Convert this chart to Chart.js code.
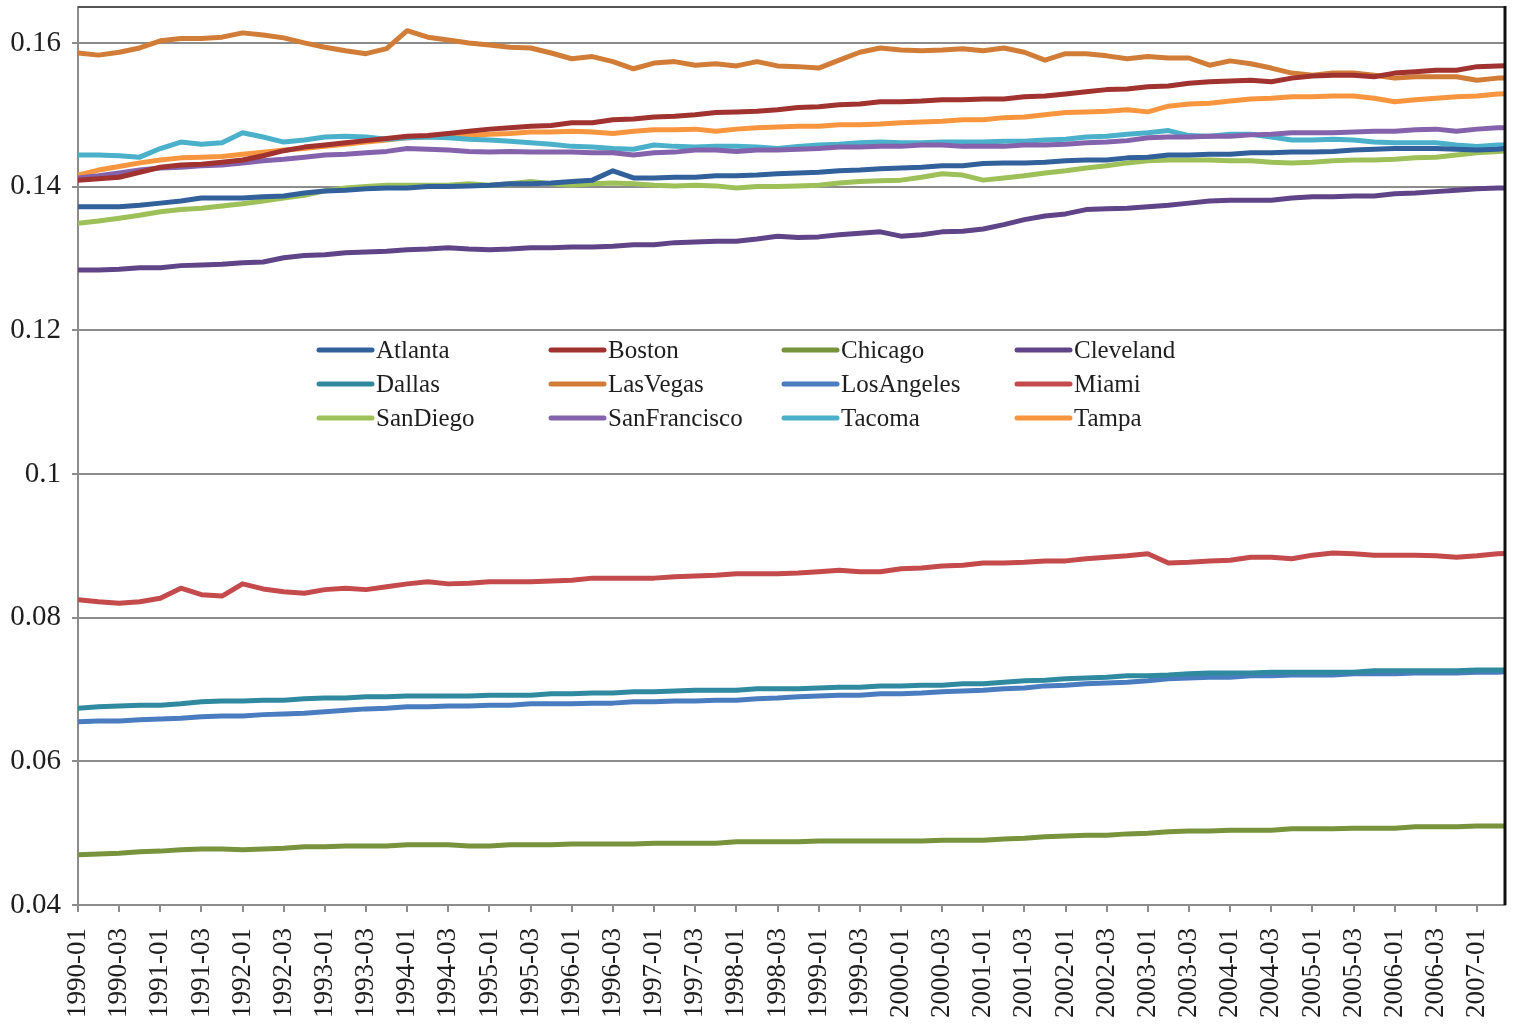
<!DOCTYPE html>
<html>
<head>
<meta charset="utf-8">
<title>Regional series by city, 1990–2007</title>
<script src="https://cdn.jsdelivr.net/npm/chart.js@4.4.1/dist/chart.umd.min.js"></script>
<style>
  html, body { margin: 0; padding: 0; background: #ffffff; }
  #wrap { position: relative; width: 1519px; height: 1030px; }
</style>
</head>
<body>
<div id="wrap"><canvas id="c"></canvas></div>
<script>
// Quarterly periods (YYYY-QQ); every second one is labelled on the axis.
const periods = [
  '1990-01','1990-02','1990-03','1990-04','1991-01','1991-02','1991-03','1991-04',
  '1992-01','1992-02','1992-03','1992-04','1993-01','1993-02','1993-03','1993-04',
  '1994-01','1994-02','1994-03','1994-04','1995-01','1995-02','1995-03','1995-04',
  '1996-01','1996-02','1996-03','1996-04','1997-01','1997-02','1997-03','1997-04',
  '1998-01','1998-02','1998-03','1998-04','1999-01','1999-02','1999-03','1999-04',
  '2000-01','2000-02','2000-03','2000-04','2001-01','2001-02','2001-03','2001-04',
  '2002-01','2002-02','2002-03','2002-04','2003-01','2003-02','2003-03','2003-04',
  '2004-01','2004-02','2004-03','2004-04','2005-01','2005-02','2005-03','2005-04',
  '2006-01','2006-02','2006-03','2006-04','2007-01','2007-02','2007-03'
];

const cities = ['Atlanta','Boston','Chicago','Cleveland','Dallas','LasVegas',
                'LosAngeles','Miami','SanDiego','SanFrancisco','Tacoma','Tampa'];

const yTicks = [0.04, 0.06, 0.08, 0.10, 0.12, 0.14, 0.16];

const atlanta = [
  0.1372,0.1372,0.1372,0.1374,0.1377,0.1380,0.1384,0.1384,0.1384,0.1386,
  0.1387,0.1391,0.1394,0.1395,0.1397,0.1398,0.1398,0.1400,0.1400,0.1401,
  0.1402,0.1404,0.1404,0.1405,0.1407,0.1409,0.1422,0.1412,0.1412,0.1413,
  0.1413,0.1415,0.1415,0.1416,0.1418,0.1419,0.1420,0.1422,0.1423,0.1425,
  0.1426,0.1427,0.1429,0.1429,0.1432,0.1433,0.1433,0.1434,0.1436,0.1437,
  0.1437,0.1440,0.1441,0.1444,0.1444,0.1445,0.1445,0.1447,0.1447,0.1448,
  0.1448,0.1449,0.1451,0.1452,0.1453,0.1453,0.1453,0.1452,0.1451,0.1452,
  0.1455
];
const boston = [
  0.1409,0.1411,0.1413,0.1420,0.1427,0.1430,0.1431,0.1434,0.1437,0.1443,
  0.1450,0.1455,0.1458,0.1461,0.1464,0.1467,0.1470,0.1471,0.1474,0.1477,
  0.1480,0.1482,0.1484,0.1485,0.1489,0.1489,0.1493,0.1494,0.1497,0.1498,
  0.1500,0.1503,0.1504,0.1505,0.1507,0.1510,0.1511,0.1514,0.1515,0.1518,
  0.1518,0.1519,0.1521,0.1521,0.1522,0.1522,0.1525,0.1526,0.1529,0.1532,
  0.1535,0.1536,0.1539,0.1540,0.1544,0.1546,0.1547,0.1548,0.1546,0.1551,
  0.1554,0.1555,0.1555,0.1553,0.1558,0.1560,0.1562,0.1562,0.1567,0.1568,
  0.1569
];
const chicago = [
  0.0470,0.0471,0.0472,0.0474,0.0475,0.0477,0.0478,0.0478,0.0477,0.0478,
  0.0479,0.0481,0.0481,0.0482,0.0482,0.0482,0.0484,0.0484,0.0484,0.0482,
  0.0482,0.0484,0.0484,0.0484,0.0485,0.0485,0.0485,0.0485,0.0486,0.0486,
  0.0486,0.0486,0.0488,0.0488,0.0488,0.0488,0.0489,0.0489,0.0489,0.0489,
  0.0489,0.0489,0.0490,0.0490,0.0490,0.0492,0.0493,0.0495,0.0496,0.0497,
  0.0497,0.0499,0.0500,0.0502,0.0503,0.0503,0.0504,0.0504,0.0504,0.0506,
  0.0506,0.0506,0.0507,0.0507,0.0507,0.0509,0.0509,0.0509,0.0510,0.0510,
  0.0510
];
const cleveland = [
  0.1284,0.1284,0.1285,0.1287,0.1287,0.1290,0.1291,0.1292,0.1294,0.1295,
  0.1301,0.1304,0.1305,0.1308,0.1309,0.1310,0.1312,0.1313,0.1315,0.1313,
  0.1312,0.1313,0.1315,0.1315,0.1316,0.1316,0.1317,0.1319,0.1319,0.1322,
  0.1323,0.1324,0.1324,0.1327,0.1331,0.1329,0.1330,0.1333,0.1335,0.1337,
  0.1331,0.1333,0.1337,0.1338,0.1341,0.1347,0.1354,0.1359,0.1362,0.1368,
  0.1369,0.1370,0.1372,0.1374,0.1377,0.1380,0.1381,0.1381,0.1381,0.1384,
  0.1386,0.1386,0.1387,0.1387,0.1390,0.1391,0.1393,0.1395,0.1397,0.1398,
  0.1398
];
const dallas = [
  0.0674,0.0676,0.0677,0.0678,0.0678,0.0680,0.0683,0.0684,0.0684,0.0685,
  0.0685,0.0687,0.0688,0.0688,0.0690,0.0690,0.0691,0.0691,0.0691,0.0691,
  0.0692,0.0692,0.0692,0.0694,0.0694,0.0695,0.0695,0.0697,0.0697,0.0698,
  0.0699,0.0699,0.0699,0.0701,0.0701,0.0701,0.0702,0.0703,0.0703,0.0705,
  0.0705,0.0706,0.0706,0.0708,0.0708,0.0710,0.0712,0.0713,0.0715,0.0716,
  0.0717,0.0719,0.0719,0.0720,0.0722,0.0723,0.0723,0.0723,0.0724,0.0724,
  0.0724,0.0724,0.0724,0.0726,0.0726,0.0726,0.0726,0.0726,0.0727,0.0727,
  0.0727
];
const lasVegas = [
  0.1586,0.1583,0.1587,0.1593,0.1603,0.1606,0.1606,0.1608,0.1614,0.1611,
  0.1607,0.1600,0.1594,0.1589,0.1585,0.1592,0.1617,0.1608,0.1604,0.1600,
  0.1597,0.1594,0.1593,0.1586,0.1578,0.1581,0.1574,0.1564,0.1572,0.1574,
  0.1569,0.1571,0.1568,0.1574,0.1568,0.1567,0.1565,0.1576,0.1587,0.1593,
  0.1590,0.1589,0.1590,0.1592,0.1589,0.1593,0.1587,0.1576,0.1585,0.1585,
  0.1582,0.1578,0.1581,0.1579,0.1579,0.1569,0.1575,0.1571,0.1565,0.1558,
  0.1555,0.1558,0.1558,0.1555,0.1551,0.1553,0.1553,0.1553,0.1548,0.1551,
  0.1551
];
const losAngeles = [
  0.0655,0.0656,0.0656,0.0658,0.0659,0.0660,0.0662,0.0663,0.0663,0.0665,
  0.0666,0.0667,0.0669,0.0671,0.0673,0.0674,0.0676,0.0676,0.0677,0.0677,
  0.0678,0.0678,0.0680,0.0680,0.0680,0.0681,0.0681,0.0683,0.0683,0.0684,
  0.0684,0.0685,0.0685,0.0687,0.0688,0.0690,0.0691,0.0692,0.0692,0.0694,
  0.0694,0.0695,0.0697,0.0698,0.0699,0.0701,0.0702,0.0705,0.0706,0.0708,
  0.0709,0.0710,0.0712,0.0715,0.0716,0.0717,0.0717,0.0719,0.0719,0.0720,
  0.0720,0.0720,0.0722,0.0722,0.0722,0.0723,0.0723,0.0723,0.0724,0.0724,
  0.0726
];
const miami = [
  0.0825,0.0822,0.0820,0.0822,0.0827,0.0841,0.0832,0.0830,0.0847,0.0840,
  0.0836,0.0834,0.0839,0.0841,0.0839,0.0843,0.0847,0.0850,0.0847,0.0848,
  0.0850,0.0850,0.0850,0.0851,0.0852,0.0855,0.0855,0.0855,0.0855,0.0857,
  0.0858,0.0859,0.0861,0.0861,0.0861,0.0862,0.0864,0.0866,0.0864,0.0864,
  0.0868,0.0869,0.0872,0.0873,0.0876,0.0876,0.0877,0.0879,0.0879,0.0882,
  0.0884,0.0886,0.0889,0.0876,0.0877,0.0879,0.0880,0.0884,0.0884,0.0882,
  0.0887,0.0890,0.0889,0.0887,0.0887,0.0887,0.0886,0.0884,0.0886,0.0889,
  0.0890
];
const sanDiego = [
  0.1349,0.1352,0.1356,0.1360,0.1365,0.1368,0.1370,0.1373,0.1376,0.1380,
  0.1384,0.1388,0.1394,0.1398,0.1400,0.1402,0.1402,0.1402,0.1402,0.1404,
  0.1402,0.1404,0.1407,0.1404,0.1402,0.1404,0.1405,0.1404,0.1402,0.1401,
  0.1402,0.1401,0.1398,0.1400,0.1400,0.1401,0.1402,0.1405,0.1407,0.1408,
  0.1409,0.1413,0.1418,0.1416,0.1409,0.1412,0.1415,0.1419,0.1422,0.1426,
  0.1429,0.1433,0.1436,0.1437,0.1437,0.1437,0.1436,0.1436,0.1434,0.1433,
  0.1434,0.1436,0.1437,0.1437,0.1438,0.1440,0.1441,0.1444,0.1447,0.1449,
  0.1451
];
const sanFrancisco = [
  0.1412,0.1415,0.1419,0.1423,0.1426,0.1427,0.1429,0.1430,0.1433,0.1436,
  0.1438,0.1441,0.1444,0.1445,0.1447,0.1449,0.1453,0.1452,0.1451,0.1449,
  0.1448,0.1449,0.1448,0.1448,0.1448,0.1447,0.1447,0.1444,0.1447,0.1448,
  0.1451,0.1451,0.1449,0.1451,0.1451,0.1452,0.1453,0.1455,0.1455,0.1456,
  0.1456,0.1458,0.1458,0.1456,0.1456,0.1456,0.1458,0.1458,0.1459,0.1461,
  0.1462,0.1464,0.1468,0.1469,0.1469,0.1470,0.1470,0.1472,0.1473,0.1475,
  0.1475,0.1475,0.1476,0.1477,0.1477,0.1479,0.1480,0.1477,0.1480,0.1482,
  0.1482
];
const tacoma = [
  0.1444,0.1444,0.1443,0.1441,0.1453,0.1462,0.1459,0.1461,0.1475,0.1469,
  0.1462,0.1465,0.1469,0.1470,0.1469,0.1466,0.1468,0.1469,0.1468,0.1466,
  0.1465,0.1463,0.1461,0.1459,0.1456,0.1455,0.1453,0.1452,0.1458,0.1456,
  0.1455,0.1456,0.1456,0.1455,0.1453,0.1456,0.1458,0.1459,0.1461,0.1462,
  0.1461,0.1461,0.1462,0.1462,0.1462,0.1463,0.1463,0.1465,0.1466,0.1469,
  0.1470,0.1473,0.1475,0.1478,0.1471,0.1470,0.1473,0.1473,0.1469,0.1465,
  0.1465,0.1466,0.1465,0.1462,0.1461,0.1461,0.1461,0.1458,0.1456,0.1458,
  0.1458
];
const tampa = [
  0.1416,0.1423,0.1428,0.1433,0.1437,0.1440,0.1441,0.1442,0.1445,0.1448,
  0.1451,0.1453,0.1456,0.1459,0.1462,0.1465,0.1468,0.1469,0.1470,0.1471,
  0.1473,0.1474,0.1476,0.1476,0.1477,0.1476,0.1474,0.1477,0.1479,0.1479,
  0.1480,0.1477,0.1480,0.1482,0.1483,0.1484,0.1484,0.1486,0.1486,0.1487,
  0.1489,0.1490,0.1491,0.1493,0.1493,0.1496,0.1497,0.1500,0.1503,0.1504,
  0.1505,0.1507,0.1504,0.1512,0.1515,0.1516,0.1519,0.1522,0.1523,0.1525,
  0.1525,0.1526,0.1526,0.1523,0.1518,0.1521,0.1523,0.1525,0.1526,0.1529,
  0.1530
];

const seriesValues = [atlanta, boston, chicago, cleveland, dallas, lasVegas,
                      losAngeles, miami, sanDiego, sanFrancisco, tacoma, tampa];

const lineColors = ['#31609A','#A0322F','#77933C','#5F4488','#2F8AA0','#D17D37',
                    '#4A7DC0','#C44A4C','#9DC059','#8462AC','#4BB0CA','#F8963F'];

const SERIF = '"Liberation Serif", "Times New Roman", serif';
const GRID = '#8c8c8c';

// Legend laid out as a 4 x 3 grid inside the plot, below the 0.12 gridline.
const cityLegend = {
  id: 'cityLegend',
  afterDraw(chart) {
    const ctx = chart.ctx;
    const colX = [317, 549, 782, 1015];
    const rowY = [350, 384, 418];
    ctx.save();
    ctx.font = '25px ' + SERIF;
    ctx.textBaseline = 'middle';
    ctx.textAlign = 'left';
    chart.data.datasets.forEach((ds, k) => {
      const x = colX[k % 4];
      const y = rowY[Math.floor(k / 4)];
      ctx.strokeStyle = ds.borderColor;
      ctx.lineWidth = 5;
      ctx.lineCap = 'round';
      ctx.beginPath();
      ctx.moveTo(x + 2, y);
      ctx.lineTo(x + 55, y);
      ctx.stroke();
      ctx.fillStyle = '#1e1e1e';
      ctx.fillText(ds.label, x + 59, y + 1);
    });
    ctx.restore();
  }
};

// Top and right edges of the plot frame.
const plotFrame = {
  id: 'plotFrame',
  afterDraw(chart) {
    const a = chart.chartArea;
    const ctx = chart.ctx;
    ctx.save();
    ctx.lineCap = 'butt';
    ctx.strokeStyle = '#555555';
    ctx.lineWidth = 2;
    ctx.beginPath();
    ctx.moveTo(a.left, a.top);
    ctx.lineTo(a.right, a.top);
    ctx.stroke();
    ctx.strokeStyle = '#111111';
    ctx.lineWidth = 3;
    ctx.beginPath();
    ctx.moveTo(a.right, a.top - 1);
    ctx.lineTo(a.right, a.bottom);
    ctx.stroke();
    ctx.restore();
  }
};

const datasets = cities.map((name, k) => ({
  label: name,
  data: seriesValues[k].map((v, i) => ({ x: i, y: v })),
  borderColor: lineColors[k],
  backgroundColor: lineColors[k],
  borderWidth: 5,
  borderJoinStyle: 'round',
  borderCapStyle: 'round',
  pointRadius: 0,
  tension: 0,
  fill: false
}));

new Chart(document.getElementById('c'), {
  type: 'line',
  data: { datasets },
  plugins: [cityLegend, plotFrame],
  options: {
    responsive: true,
    maintainAspectRatio: false,
    animation: false,
    layout: { padding: { top: 7, right: 14, left: 0, bottom: 0 } },
    plugins: {
      legend: { display: false },
      tooltip: { enabled: false },
      title: { display: false }
    },
    scales: {
      x: {
        type: 'linear',
        min: 0,
        max: 69.36,
        afterBuildTicks(scale) {
          const t = [];
          for (let i = 0; i <= 68; i += 2) t.push({ value: i });
          scale.ticks = t;
        },
        afterFit(scale) {
          scale.height = 125;
          scale.paddingLeft = 0;
          scale.paddingRight = 0;
        },
        ticks: {
          autoSkip: false,
          minRotation: 90,
          maxRotation: 90,
          padding: 16,
          color: '#1e1e1e',
          font: { family: SERIF, size: 27 },
          callback: (value) => periods[value]
        },
        grid: {
          drawOnChartArea: false,
          drawTicks: true,
          tickLength: 7,
          color: GRID,
          lineWidth: 2
        },
        border: { display: true, color: GRID, width: 2 }
      },
      y: {
        type: 'linear',
        min: 0.04,
        max: 0.165,
        afterBuildTicks(scale) {
          scale.ticks = yTicks.map(v => ({ value: v }));
        },
        afterFit(scale) {
          scale.width = 78;
          scale.paddingTop = 0;
          scale.paddingBottom = 0;
        },
        ticks: {
          padding: 11,
          color: '#1e1e1e',
          font: { family: SERIF, size: 29 },
          callback: (value) => String(Number(value.toFixed(2)))
        },
        grid: {
          color: GRID,
          lineWidth: 2,
          tickLength: 6
        },
        border: { display: true, color: GRID, width: 2 }
      }
    }
  }
});
</script>
</body>
</html>
